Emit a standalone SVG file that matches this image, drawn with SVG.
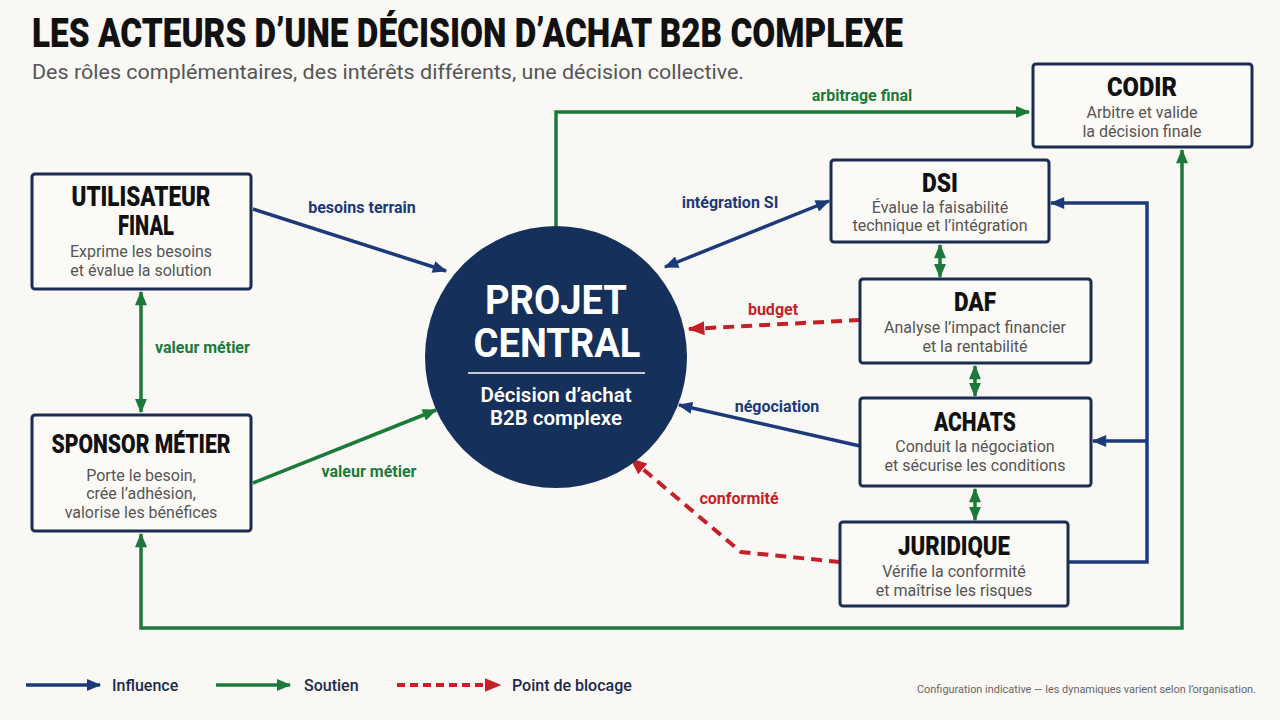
<svg xmlns="http://www.w3.org/2000/svg" width="1280" height="720" viewBox="0 0 1280 720">
<defs>
<style>
.bg{fill:#f9f8f5}
.box{fill:#fbfaf7;stroke:#1a2c52;stroke-width:3}
.ttl{font-family:Roboto,"Liberation Sans",sans-serif;font-weight:900;fill:#111;text-anchor:middle}
.sub{font-family:Roboto,"Liberation Sans",sans-serif;font-size:16px;fill:#555;text-anchor:middle}
.lbl{font-family:Roboto,"Liberation Sans",sans-serif;font-size:16px;font-weight:700;text-anchor:middle}
.nv{stroke:#1c3a78;stroke-width:3.5;fill:none}
.gr{stroke:#1b7a3a;stroke-width:3.5;fill:none}
.rd{stroke:#c71f27;stroke-width:4;fill:none;stroke-dasharray:11 7}
.leg{font-family:Roboto,"Liberation Sans",sans-serif;font-size:16px;font-weight:500;fill:#1b2a4a}
</style>
<marker id="an" viewBox="0 0 12 10" refX="11" refY="5" markerWidth="15" markerHeight="12" markerUnits="userSpaceOnUse" orient="auto-start-reverse"><path d="M0,0 L12,5 L0,10 z" fill="#1c3a78"/></marker>
<marker id="ag" viewBox="0 0 12 10" refX="11" refY="5" markerWidth="15" markerHeight="12" markerUnits="userSpaceOnUse" orient="auto-start-reverse"><path d="M0,0 L12,5 L0,10 z" fill="#1b7a3a"/></marker>
<marker id="ar" viewBox="0 0 12 10" refX="11" refY="5" markerWidth="17" markerHeight="14" markerUnits="userSpaceOnUse" orient="auto-start-reverse"><path d="M0,0 L12,5 L0,10 z" fill="#c71f27"/></marker>
</defs>
<rect class="bg" x="0" y="0" width="1280" height="720"/>

<g id="title">
<text x="32" y="47" font-family="Roboto,'Liberation Sans',sans-serif" font-weight="900" font-size="41" fill="#111" textLength="871" lengthAdjust="spacingAndGlyphs">LES ACTEURS D’UNE DÉCISION D’ACHAT B2B COMPLEXE</text>
<text x="32" y="79" font-family="Roboto,'Liberation Sans',sans-serif" font-size="20" fill="#555" textLength="712" lengthAdjust="spacingAndGlyphs">Des rôles complémentaires, des intérêts différents, une décision collective.</text>
</g>

<g id="connectors">
<path class="nv" d="M253,209 L446,271" marker-end="url(#an)"/>
<path class="gr" d="M141,292 V412" marker-start="url(#ag)" marker-end="url(#ag)"/>
<path class="gr" d="M253,483 L436,410" marker-end="url(#ag)"/>
<path class="gr" d="M556,226 V112 H1029" marker-end="url(#ag)"/>
<path class="nv" d="M665,267 L829,201" marker-start="url(#an)" marker-end="url(#an)"/>
<path class="rd" d="M860,320 L689,329" marker-end="url(#ar)"/>
<path class="nv" d="M860,446 L679,405" marker-end="url(#an)"/>
<path class="rd" d="M840,562 L741,552 L631,459" marker-end="url(#ar)"/>
<path class="gr" d="M940,245 V277" marker-start="url(#ag)" marker-end="url(#ag)"/>
<path class="gr" d="M975,366 V396" marker-start="url(#ag)" marker-end="url(#ag)"/>
<path class="gr" d="M975,489 V520" marker-start="url(#ag)" marker-end="url(#ag)"/>
<path class="nv" d="M1068,562 H1147 V203 H1051" marker-end="url(#an)"/>
<path class="nv" d="M1147,441 H1093" marker-end="url(#an)"/>
<path class="gr" d="M141,534 V628 H1182 V150" marker-start="url(#ag)" marker-end="url(#ag)"/>
<text class="lbl" x="362" y="213" fill="#1c3a78">besoins terrain</text>
<text class="lbl" x="155" y="353" fill="#1b7a3a" style="text-anchor:start">valeur métier</text>
<text class="lbl" x="369" y="477" fill="#1b7a3a">valeur métier</text>
<text class="lbl" x="862" y="101" fill="#1b7a3a">arbitrage final</text>
<text class="lbl" x="730" y="208" fill="#1c3a78">intégration SI</text>
<text class="lbl" x="773" y="315" fill="#c71f27">budget</text>
<text class="lbl" x="777" y="412" fill="#1c3a78">négociation</text>
<text class="lbl" x="739" y="504" fill="#c71f27">conformité</text>
</g>

<g id="projet">
<circle cx="556" cy="357" r="131" fill="#15305a"/>
<text x="556" y="314" font-family="Roboto,'Liberation Sans',sans-serif" font-weight="700" font-size="40" fill="#fff" text-anchor="middle" textLength="142" lengthAdjust="spacingAndGlyphs">PROJET</text>
<text x="557" y="357" font-family="Roboto,'Liberation Sans',sans-serif" font-weight="700" font-size="40" fill="#fff" text-anchor="middle" textLength="167" lengthAdjust="spacingAndGlyphs">CENTRAL</text>
<line x1="468" y1="373" x2="645" y2="373" stroke="#fff" stroke-width="1.5"/>
<text x="556" y="402" font-family="Roboto,'Liberation Sans',sans-serif" font-weight="600" font-size="20.5" fill="#fff" text-anchor="middle">Décision d’achat</text>
<text x="556" y="425" font-family="Roboto,'Liberation Sans',sans-serif" font-weight="600" font-size="20.5" fill="#fff" text-anchor="middle">B2B complexe</text>
</g>

<g id="codir">
<rect class="box" x="1033" y="64" width="219" height="83" rx="3"/>
<text class="ttl" x="1142" y="96" font-size="26" textLength="70" lengthAdjust="spacingAndGlyphs">CODIR</text>
<text class="sub" x="1142" y="118">Arbitre et valide</text>
<text class="sub" x="1142" y="137">la décision finale</text>
</g>

<g id="dsi">
<rect class="box" x="831" y="160" width="218" height="82" rx="3"/>
<text class="ttl" x="940" y="192" font-size="26" textLength="36" lengthAdjust="spacingAndGlyphs">DSI</text>
<text class="sub" x="940" y="213">Évalue la faisabilité</text>
<text class="sub" x="940" y="231">technique et l’intégration</text>
</g>

<g id="daf">
<rect class="box" x="860" y="279" width="231" height="84" rx="3"/>
<text class="ttl" x="975" y="311" font-size="26" textLength="42" lengthAdjust="spacingAndGlyphs">DAF</text>
<text class="sub" x="975" y="333">Analyse l’impact financier</text>
<text class="sub" x="975" y="352">et la rentabilité</text>
</g>

<g id="achats">
<rect class="box" x="860" y="398" width="231" height="88" rx="3"/>
<text class="ttl" x="975" y="431" font-size="26" textLength="82" lengthAdjust="spacingAndGlyphs">ACHATS</text>
<text class="sub" x="975" y="452">Conduit la négociation</text>
<text class="sub" x="975" y="471">et sécurise les conditions</text>
</g>

<g id="juridique">
<rect class="box" x="840" y="522" width="228" height="84" rx="3"/>
<text class="ttl" x="954" y="555" font-size="26" textLength="112" lengthAdjust="spacingAndGlyphs">JURIDIQUE</text>
<text class="sub" x="954" y="577">Vérifie la conformité</text>
<text class="sub" x="954" y="596">et maîtrise les risques</text>
</g>

<g id="utilisateur">
<rect class="box" x="32" y="174" width="219" height="115" rx="3"/>
<text class="ttl" x="141" y="206" font-size="27" textLength="139" lengthAdjust="spacingAndGlyphs">UTILISATEUR</text>
<text class="ttl" x="146" y="235" font-size="27" textLength="56" lengthAdjust="spacingAndGlyphs">FINAL</text>
<text class="sub" x="141" y="257">Exprime les besoins</text>
<text class="sub" x="141" y="276">et évalue la solution</text>
</g>

<g id="sponsor">
<rect class="box" x="32" y="415" width="219" height="116" rx="3"/>
<text class="ttl" x="141" y="453" font-size="26" textLength="179" lengthAdjust="spacingAndGlyphs">SPONSOR MÉTIER</text>
<text class="sub" x="141" y="481">Porte le besoin,</text>
<text class="sub" x="141" y="499">crée l’adhésion,</text>
<text class="sub" x="141" y="518">valorise les bénéfices</text>
</g>

<g id="legend">
<line class="nv" x1="26" y1="685" x2="100" y2="685" marker-end="url(#an)"/>
<text class="leg" x="112" y="691">Influence</text>
<line class="gr" x1="216" y1="685" x2="290" y2="685" marker-end="url(#ag)"/>
<text class="leg" x="304" y="691">Soutien</text>
<line class="rd" x1="397" y1="685" x2="500" y2="685" marker-end="url(#ar)" style="stroke-dasharray:8 5"/>
<text class="leg" x="512" y="691">Point de blocage</text>
<text x="1256" y="693" font-family="Roboto,'Liberation Sans',sans-serif" font-size="11" fill="#666" text-anchor="end" textLength="339" lengthAdjust="spacingAndGlyphs">Configuration indicative — les dynamiques varient selon l’organisation.</text>
</g>
</svg>
